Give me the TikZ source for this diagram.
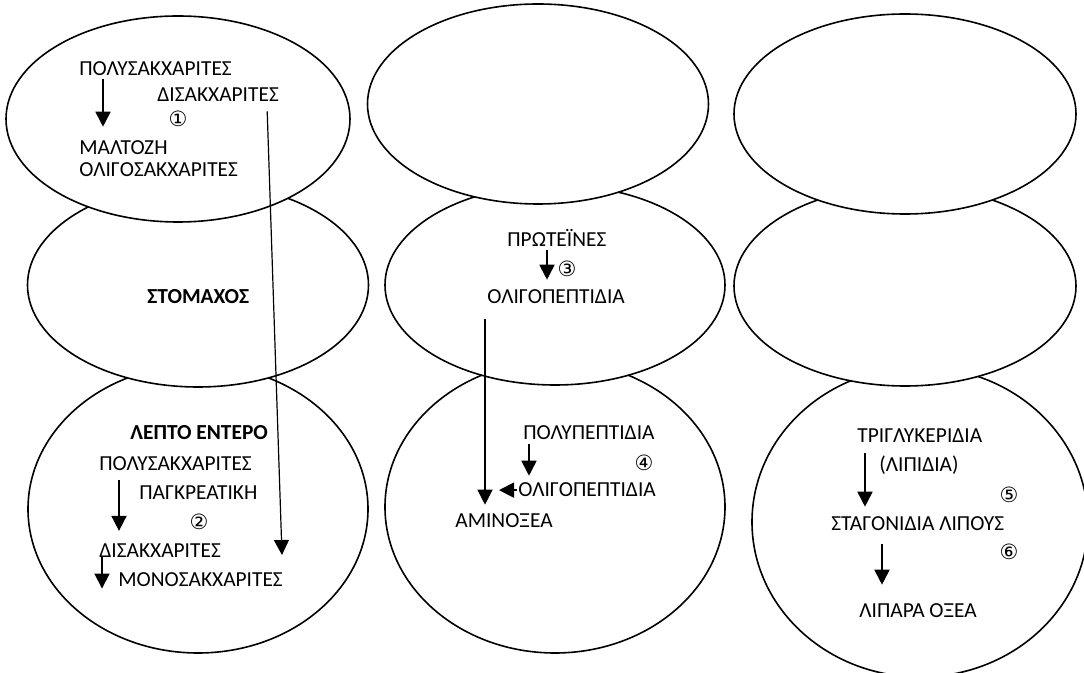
\documentclass[tikz,border=0pt]{standalone}
\usepackage{fontspec}
\setmainfont{Carlito}
\newfontfamily\circfont{DejaVu Sans}
\usetikzlibrary{shapes.geometric,arrows.meta}

\begin{document}
\begin{tikzpicture}[x=0.5pt,y=-0.5pt,
    oval/.style={ellipse,draw,fill=white,line width=0.8pt,inner sep=0pt},
    txt/.style={anchor=base west,inner sep=0pt,font=\fontsize{10.7}{12}\selectfont},
    head/.style={txt,font=\bfseries\fontsize{10.7}{12}\selectfont},
    num/.style={inner sep=0pt,font=\circfont\fontsize{10.5}{12}\selectfont},
    arr/.style={-{Triangle[width=7.5pt,length=7.5pt]},line width=0.9pt},
    longarr/.style={-{Triangle[width=7.5pt,length=7.5pt]},line width=0.6pt}] % begins the tikz environment
    \clip (0,0) rectangle (1084,673);
    % bottom row first, the rows above cover its top
    \node (gutL) at (198,509) [oval,minimum width=170pt,minimum height=144pt] {};
    \node (gutM) at (555,507) [oval,minimum width=170pt,minimum height=146pt] {};
    \node (gutR) at (920,522) [oval,minimum width=168pt,minimum height=155pt] {};
    \node (stomL) at (198,285) [oval,minimum width=170.5pt,minimum height=102pt] {};
    \node (stomM) at (555,285) [oval,minimum width=170pt,minimum height=100pt] {};
    \node (stomR) at (905,286) [oval,minimum width=171pt,minimum height=100pt] {};
    \node (mouthL) at (178,119) [oval,minimum width=172pt,minimum height=103pt] {};
    \node (mouthM) at (538,104) [oval,minimum width=170.5pt,minimum height=100pt] {};
    \node (mouthR) at (905,114) [oval,minimum width=171pt,minimum height=100pt] {};

    \node (polyA) at (79,76) [txt] {ΠΟΛΥΣΑΚΧΑΡΙΤΕΣ};
    \node (disA) at (157,102) [txt] {ΔΙΣΑΚΧΑΡΙΤΕΣ};
    \node (n1) at (178,119) [num] {①};
    \node (maltA) at (79,155) [txt] {ΜΑΛΤΟΖΗ};
    \node (oligA) at (79,177) [txt] {ΟΛΙΓΟΣΑΚΧΑΡΙΤΕΣ};
    \node (stom) at (147,304) [head] {ΣΤΟΜΑΧΟΣ};
    \node (lepto) at (130,440) [head] {ΛΕΠΤΟ ΕΝΤΕΡΟ};
    \node (polyB) at (99,471) [txt] {ΠΟΛΥΣΑΚΧΑΡΙΤΕΣ};
    \node (pagk) at (139,500) [txt] {ΠΑΓΚΡΕΑΤΙΚΗ};
    \node (n2) at (199,522) [num] {②};
    \node (disB) at (99,558) [txt] {ΔΙΣΑΚΧΑΡΙΤΕΣ};
    \node (monoB) at (118,587) [txt] {ΜΟΝΟΣΑΚΧΑΡΙΤΕΣ};

    \node (prot) at (507,247) [txt] {ΠΡΩΤΕΪΝΕΣ};
    \node (n3) at (567,269) [num] {③};
    \node (oligM) at (487,304) [txt] {ΟΛΙΓΟΠΕΠΤΙΔΙΑ};
    \node (polyP) at (523,440) [txt] {ΠΟΛΥΠΕΠΤΙΔΙΑ};
    \node (n4) at (644,463) [num] {④};
    \node (oligP) at (518,497) [txt] {ΟΛΙΓΟΠΕΠΤΙΔΙΑ};
    \node (amino) at (455,528) [txt] {ΑΜΙΝΟΞΕΑ};

    \node (trig) at (857,443) [txt] {ΤΡΙΓΛΥΚΕΡΙΔΙΑ};
    \node (lipid) at (879,472) [txt] {(ΛΙΠΙΔΙΑ)};
    \node (n5) at (1009,495) [num] {⑤};
    \node (stag) at (831,531) [txt] {ΣΤΑΓΟΝΙΔΙΑ ΛΙΠΟΥΣ};
    \node (n6) at (1009,552) [num] {⑥};
    \node (lipara) at (859,618) [txt] {ΛΙΠΑΡΑ ΟΞΕΑ};

    \coordinate (endA) at (282,555);
    \draw[arr] ([xshift=12pt,yshift=-1pt]polyA.south west) -- ([xshift=12pt,yshift=7pt]maltA.north west);
    \draw[longarr] ([xshift=-6pt,yshift=-4.5pt]disA.south east) -- (endA);
    \draw[arr] ([xshift=10pt,yshift=-4pt]polyB.south west) -- ([xshift=10pt,yshift=6.5pt]disB.north west);
    \draw[arr] ([xshift=1.5pt,yshift=0.5pt]disB.south west) -- ([xshift=-8pt,yshift=-0.5pt]monoB.south west);
    \draw[arr] ([xshift=20pt,yshift=-1.5pt]prot.south west) -- ([xshift=30pt,yshift=5pt]oligM.north west);
    \draw[longarr] ([xshift=-1pt,yshift=-7pt]oligM.south west) -- ([xshift=15pt,yshift=4.5pt]amino.north west);
    \draw[arr] ([xshift=3pt,yshift=-1.5pt]polyP.south west) -- ([xshift=5.5pt,yshift=3.5pt]oligP.north west);
    \draw[arr] ([xshift=-0.5pt]oligP.west) -- ([xshift=-9.5pt]oligP.west);
    \draw[arr] ([xshift=4pt,yshift=-5pt]trig.south west) -- ([xshift=17pt,yshift=5pt]stag.north west);
    \draw[arr] ([xshift=25.5pt,yshift=-6pt]stag.south west) -- ([xshift=11.5pt,yshift=9.5pt]lipara.north west);
\end{tikzpicture}
\end{document}
